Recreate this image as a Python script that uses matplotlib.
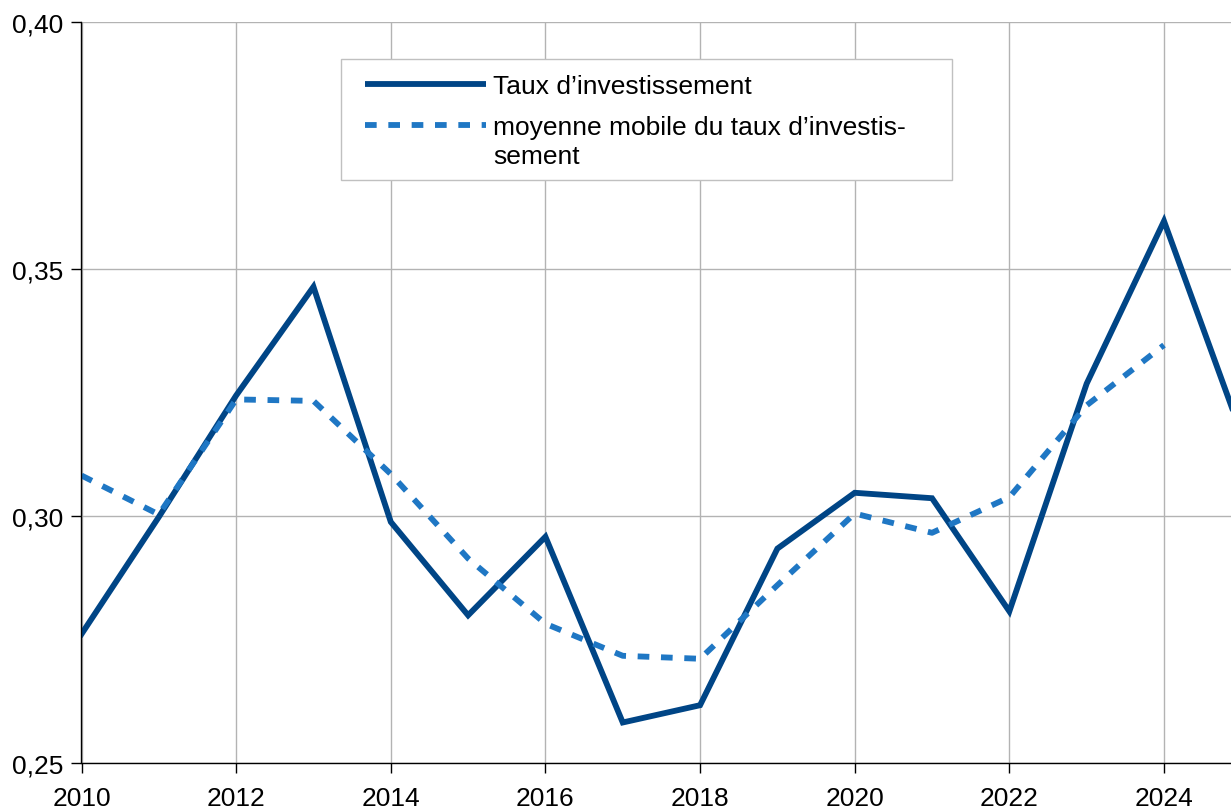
import matplotlib
matplotlib.use("Agg")
import matplotlib.pyplot as plt
from matplotlib.lines import Line2D
from matplotlib.patches import Rectangle

# ---- data ----
years = [2010, 2011, 2012, 2013, 2014, 2015, 2016, 2017, 2018, 2019, 2020,
         2021, 2022, 2023, 2024, 2025]
taux = [0.2761, 0.2998, 0.3244, 0.3464, 0.2988, 0.2799, 0.2958, 0.2582,
        0.2617, 0.2934, 0.3047, 0.3036, 0.2807, 0.3268, 0.3597, 0.3167]
years_mm = [2010, 2011, 2012, 2013, 2014, 2015, 2016, 2017, 2018, 2019,
            2020, 2021, 2022, 2023, 2024]
moyenne = [0.3082, 0.3003, 0.3236, 0.3233, 0.3085, 0.2914, 0.2782, 0.2717,
           0.2711, 0.2860, 0.3005, 0.2966, 0.3038, 0.3224, 0.3346]
xticks = [2010, 2012, 2014, 2016, 2018, 2020, 2022, 2024]
yticks = [0.25, 0.30, 0.35, 0.40]
ytick_labels = ["0,25", "0,30", "0,35", "0,40"]
label1 = "Taux d\u2019investissement"
label2a = "moyenne mobile du taux d\u2019investis-"
label2b = "sement"

SOLID = "#004586"
DASH = "#1f77c4"
GRID = "#b3b3b3"
FONT = "Liberation Sans"
FS = 19

W, H = 1231, 812
fig = plt.figure(figsize=(W / 100, H / 100), dpi=100)
fig.patch.set_facecolor("white")

left, right, top, bottom = 81.5, 1231, 23, 764
ax = fig.add_axes([left / W, 1 - bottom / H, (right - left) / W, (bottom - top) / H])

ax.plot(years, taux, color=SOLID, lw=4.2, solid_joinstyle="miter", zorder=3)
ax.plot(years_mm, moyenne, color=DASH, lw=4.2, linestyle=(0, (2.0, 2.0)), zorder=3)

ax.set_xlim(2010, 2010 + (right - left) / ((1164 - 81.5) / 14))
ax.set_ylim(0.25, 0.40)
ax.set_xticks(xticks)
ax.set_xticklabels([str(x) for x in xticks], fontfamily=FONT, fontsize=FS)
ax.set_yticks(yticks)
ax.set_yticklabels(ytick_labels, fontfamily=FONT, fontsize=FS)
ax.tick_params(axis="both", direction="out", length=7.5, width=1.0,
               color="black", labelcolor="black")
ax.tick_params(axis="x", pad=9)
ax.tick_params(axis="y", pad=5.5)

ax.grid(True, color=GRID, lw=1.0, zorder=0)
ax.set_axisbelow(True)
for s in ["top", "right"]:
    ax.spines[s].set_visible(False)
for s in ["left", "bottom"]:
    ax.spines[s].set_color("black")
    ax.spines[s].set_linewidth(1.0)
    ax.spines[s].set_zorder(4)


def fx(x):
    return x / W


def fy(y):
    return 1 - y / H


# ---- legend (manual, figure coordinates) ----
box = Rectangle((fx(340.5), fy(181)), fx(951.5) - fx(340.5), fy(59.5) - fy(181),
                transform=fig.transFigure, facecolor="white", edgecolor="#c0c0c0",
                lw=1.0, zorder=10)
fig.add_artist(box)
fig.add_artist(Line2D([fx(365), fx(486)], [fy(84.5), fy(84.5)], transform=fig.transFigure,
                      color=SOLID, lw=4.2, solid_capstyle="butt", zorder=11))
fig.add_artist(Line2D([fx(365), fx(486)], [fy(125.5), fy(125.5)], transform=fig.transFigure,
                      color=DASH, lw=4.2, linestyle=(0, (2.0, 2.0)), zorder=11))
fig.text(fx(493), fy(94.3), label1, fontfamily=FONT, fontsize=FS, va="baseline",
         ha="left", zorder=12)
fig.text(fx(493), fy(134.5), label2a, fontfamily=FONT, fontsize=FS, va="baseline",
         ha="left", zorder=12)
fig.text(fx(493), fy(164.5), label2b, fontfamily=FONT, fontsize=FS, va="baseline",
         ha="left", zorder=12)

fig.savefig("out.png", dpi=100)
